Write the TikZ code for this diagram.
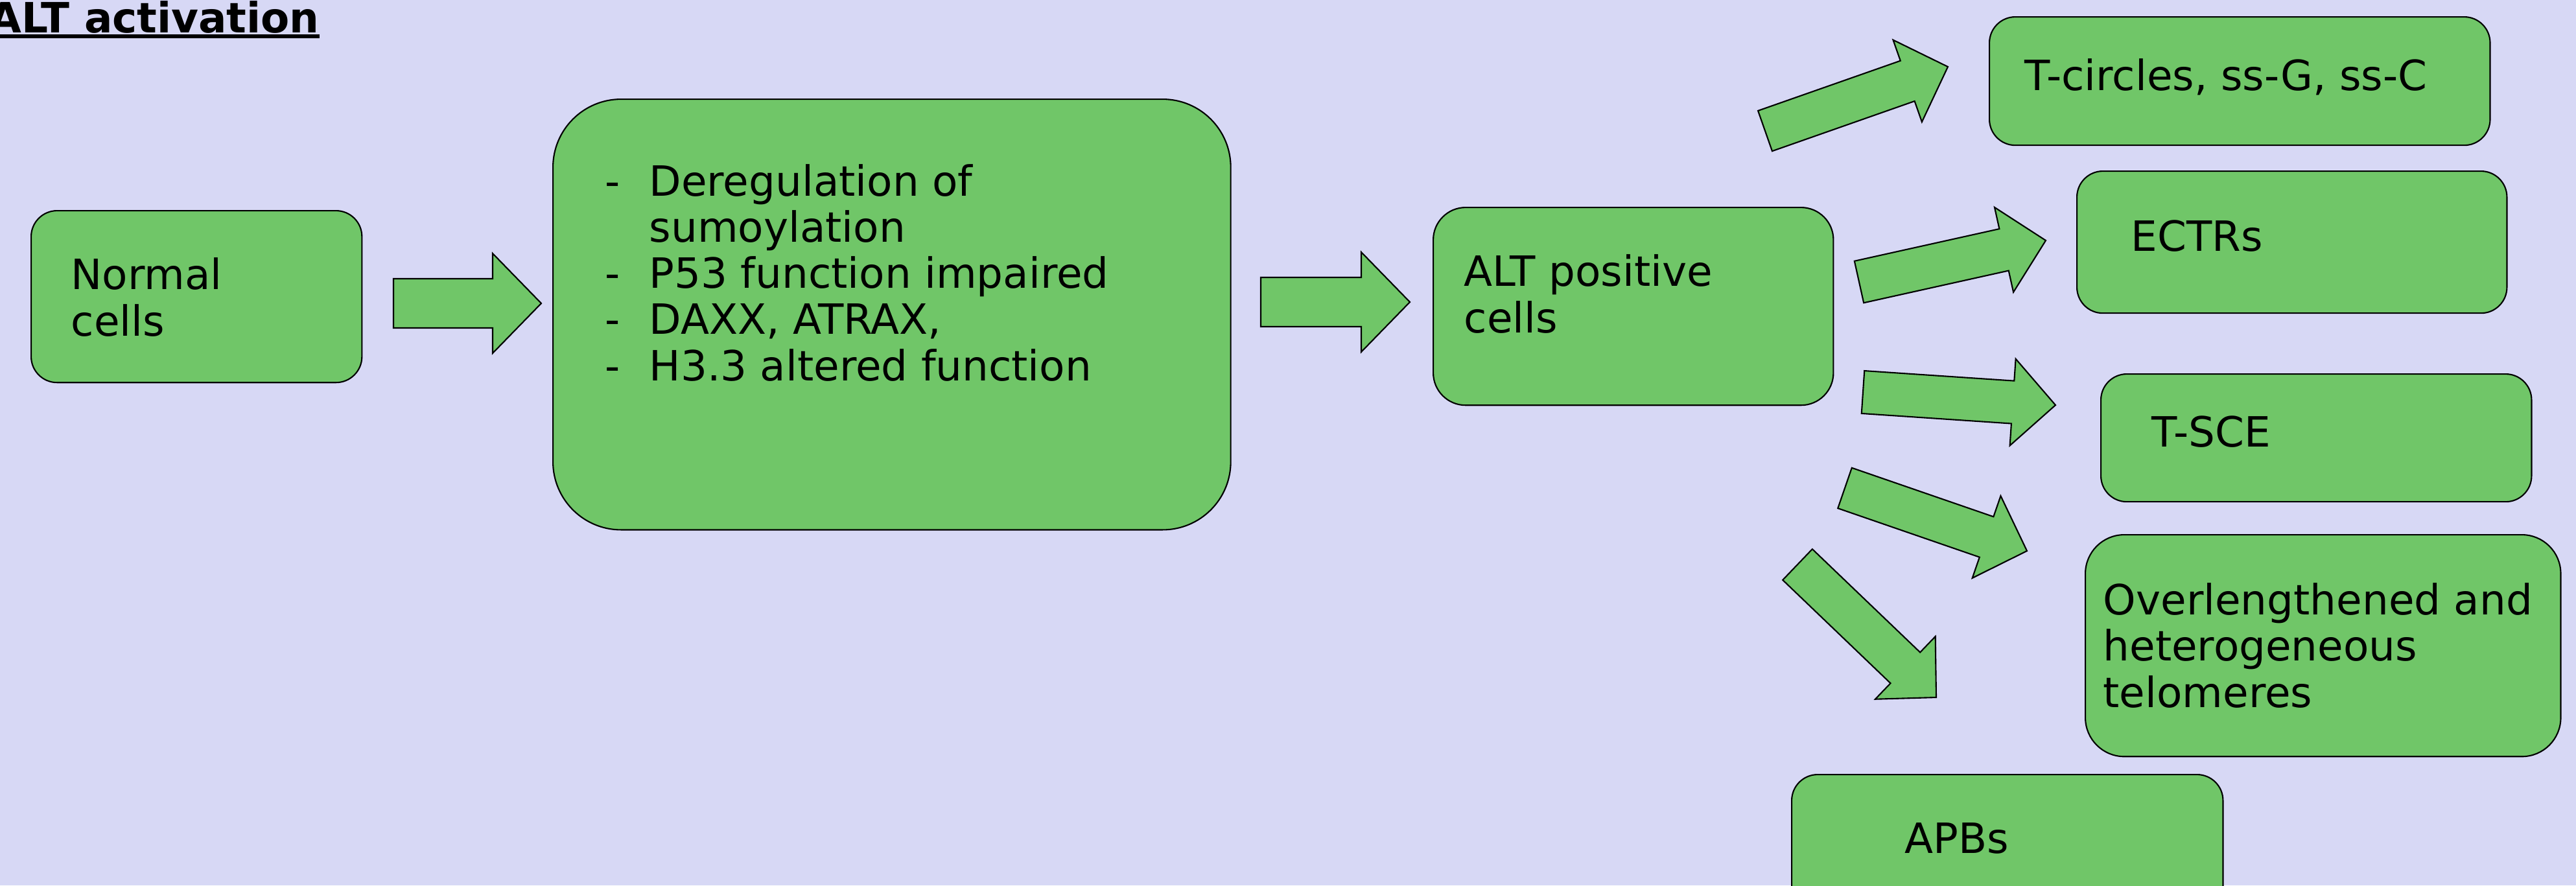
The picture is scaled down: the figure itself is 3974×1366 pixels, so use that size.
\documentclass[tikz,border=0pt]{standalone}
\usepackage{fontspec}
\setmainfont{DejaVu Sans}
\usetikzlibrary{calc,positioning}

\definecolor{bglilac}{RGB}{215,216,245}
\definecolor{cellgreen}{RGB}{112,198,104}

\newcommand{\bodyfont}{\fontsize{18.3pt}{20.2pt}\selectfont}
\newcommand{\dashitem}{\makebox[0.68cm][l]{-}}
\newcommand{\blockarr}[5]{%
  \coordinate (ba-h) at ($(#2)!#5!(#1)$);
  \filldraw[barrow] ($(#1)!#3!90:(#2)$) -- ($(ba-h)!#3!-90:(#1)$) -- ($(ba-h)!#4!-90:(#1)$)
    -- (#2) -- ($(ba-h)!#4!90:(#1)$) -- ($(ba-h)!#3!90:(#1)$) -- ($(#1)!#3!-90:(#2)$) -- cycle;
}

\begin{document}
\begin{tikzpicture}[x=0.01cm,y=-0.01cm,
                    box/.style={draw,fill=cellgreen,line width=0.6pt,rounded corners=0.4cm,
                                anchor=north west,inner sep=0pt},
                    txt/.style={anchor=base west,align=left,inner sep=0pt,font=\bodyfont},
                    barrow/.style={draw,fill=cellgreen,line width=0.6pt}]
  \fill[bglilac] (0,0) rectangle (3974,1366);
  \useasboundingbox (0,0) rectangle (3974,1366);

  \node[anchor=base west,inner sep=0pt,font=\bodyfont\bfseries] (title) at (-17,50) {ALT activation};
  \draw[line width=0.06cm] ([yshift=-0.06cm]title.base west) -- ([yshift=-0.06cm]title.base east);

  \node[box,minimum width=5.10cm,minimum height=2.65cm]                        (normal) at (47,324) {};
  \node[box,minimum width=10.45cm,minimum height=6.64cm,rounded corners=1.05cm] (dereg) at (852,152) {};
  \node[box,minimum width=6.17cm,minimum height=3.05cm,rounded corners=0.5cm]  (alt) at (2210,319) {};
  \node[box,minimum width=7.72cm,minimum height=1.98cm]                        (tcirc) at (3068,25) {};
  \node[box,minimum width=6.63cm,minimum height=2.19cm]                        (ectr) at (3203,263) {};
  \node[box,minimum width=6.64cm,minimum height=1.97cm]                        (tsce) at (3240,576) {};
  \node[box,minimum width=7.33cm,minimum height=3.42cm,rounded corners=0.6cm]  (overl) at (3216,824) {};
  \node[box,minimum width=6.65cm,minimum height=2.40cm]                        (apb) at (2763,1194) {};

  \node[txt] (normaltxt) at ($(normal.north west)+(62,194)$) {Normal\\cells};
  \node[txt] (deregtxt) at ($(dereg.north west)+(81,435)$)
    {\dashitem Deregulation of\\\hspace*{0.68cm}sumoylation\\\dashitem P53 function impaired\\
     \dashitem DAXX, ATRAX,\\\dashitem H3.3 altered function};
  \node[txt] (alttxt) at ($(alt.north west)+(48,194)$) {ALT positive\\cells};
  \node[txt] (tcirctxt) at ($(tcirc.north west)+(55,114)$) {T-circles, ss-G, ss-C};
  \node[txt] (ectrtxt) at ($(ectr.north west)+(84,124)$) {ECTRs};
  \node[txt] (tscetxt) at ($(tsce.north west)+(79,113)$) {T-SCE};
  \node[txt] (overltxt) at ($(overl.north west)+(28,267)$) {Overlengthened and\\heterogeneous\\telomeres};
  \node[txt] (apbtxt) at ($(apb.north west)+(175,122)$) {APBs};

  \coordinate (n-out) at (607,468);   \coordinate (d-in) at (835,468);
  \coordinate (d-out) at (1945,466);  \coordinate (a-in) at (2175,466);
  \coordinate (t1-out) at (2723,202); \coordinate (t1-in) at (3005,103);
  \coordinate (t2-out) at (2868,435); \coordinate (t2-in) at (3156,371);
  \coordinate (t3-out) at (2874,605); \coordinate (t3-in) at (3171,625);
  \coordinate (t4-out) at (2846,753); \coordinate (t4-in) at (3127,850);
  \coordinate (t5-out) at (2773,871); \coordinate (t5-in) at (2987,1076);

  \blockarr{n-out}{d-in}{0.38cm}{0.77cm}{0.75cm}
  \blockarr{d-out}{a-in}{0.38cm}{0.77cm}{0.75cm}
  \blockarr{t1-out}{t1-in}{0.33cm}{0.67cm}{0.66cm}
  \blockarr{t2-out}{t2-in}{0.33cm}{0.67cm}{0.66cm}
  \blockarr{t3-out}{t3-in}{0.33cm}{0.67cm}{0.66cm}
  \blockarr{t4-out}{t4-in}{0.33cm}{0.67cm}{0.66cm}
  \blockarr{t5-out}{t5-in}{0.33cm}{0.67cm}{0.66cm}
\end{tikzpicture}
\end{document}
